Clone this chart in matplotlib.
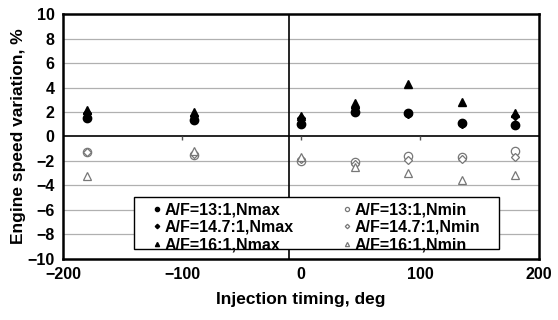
import numpy as np
import matplotlib.pyplot as plt
from matplotlib.patches import Rectangle

plt.rcParams['font.family'] = ['Liberation Sans', 'DejaVu Sans']
plt.rcParams['font.weight'] = 'bold'

# Injection timing, deg
timing = [-180, -90, 0, 45, 90, 135, 180]

# Engine speed variation, %
af13_nmax = [1.5, 1.35, 1.0, 2.0, 1.95, 1.1, 0.9]
af147_nmax = [1.9, 1.7, 1.5, 2.3, 1.8, 1.0, 1.7]
af16_nmax = [2.2, 2.0, 1.7, 2.7, 4.3, 2.8, 1.9]
af13_nmin = [-1.25, -1.5, -2.0, -2.05, -1.6, -1.7, -1.15]
af147_nmin = [-1.3, -1.4, -1.8, -2.25, -1.9, -1.8, -1.7]
af16_nmin = [-3.2, -1.2, -1.7, -2.5, -3.0, -3.55, -3.15]

fig = plt.figure(figsize=(5.58, 3.2), dpi=100)
ax = fig.add_axes([0.113, 0.191, 0.853, 0.765])

ax.set_xlim(-200, 200)
ax.set_ylim(-10, 10)
ax.set_xticks([-200, -100, 0, 100, 200])
ax.set_yticks(np.arange(-10, 11, 2))
for y in np.arange(-8, 9, 2):
    if y != 0:
        ax.axhline(y, color='#b0b0b0', lw=0.9, zorder=0)
ax.axhline(0, color='black', lw=1.2, zorder=1)
ax.axvline(-10, color='black', lw=1.2, zorder=1)
# small tick marks on the zero line
ax.plot([-100, 0, 100], [0, 0, 0], ls='none', marker=3, ms=3, color='#555555', zorder=1)

open_kw = dict(mfc='white', mec='#777777', mew=0.9, ls='none', zorder=3)
ax.plot(timing, af13_nmax, 'o', color='black', ms=6, ls='none', label='A/F=13:1,Nmax', zorder=3)
ax.plot(timing, af147_nmax, 'D', color='black', ms=4.5, ls='none', label='A/F=14.7:1,Nmax', zorder=3)
ax.plot(timing, af16_nmax, '^', color='black', ms=6, ls='none', label='A/F=16:1,Nmax', zorder=3)
ax.plot(timing, af13_nmin, 'o', ms=6, label='A/F=13:1,Nmin', **open_kw)
ax.plot(timing, af147_nmin, 'D', ms=4.5, label='A/F=14.7:1,Nmin', **open_kw)
ax.plot(timing, af16_nmin, '^', ms=6, label='A/F=16:1,Nmin', **open_kw)

for s in ax.spines.values():
    s.set_linewidth(1.8)
ax.tick_params(length=0, labelsize=11.5, pad=6)
for lbl in ax.get_xticklabels() + ax.get_yticklabels():
    lbl.set_fontweight('bold')

ax.set_xlabel('Injection timing, deg', fontsize=12.5, fontweight='bold', labelpad=7)
ax.set_ylabel('Engine speed variation, %', fontsize=12.5, fontweight='bold', labelpad=1)

# legend frame drawn separately (wide side padding like the original)
ax.add_patch(Rectangle((0.149, 0.041), 0.767, 0.212, transform=ax.transAxes,
                       facecolor='white', edgecolor='black', lw=1.0, zorder=4))
leg = ax.legend(ncol=2, loc='center', bbox_to_anchor=(0.187, 0.029, 0.69, 0.2),
                mode='expand', borderaxespad=0, prop={'weight': 'bold', 'size': 11.5},
                markerscale=0.5, handlelength=0.6, handletextpad=0.2,
                borderpad=0, labelspacing=0.15, columnspacing=1.0,
                frameon=False)
leg.set_zorder(5)

fig.savefig('out.png', dpi=100)
